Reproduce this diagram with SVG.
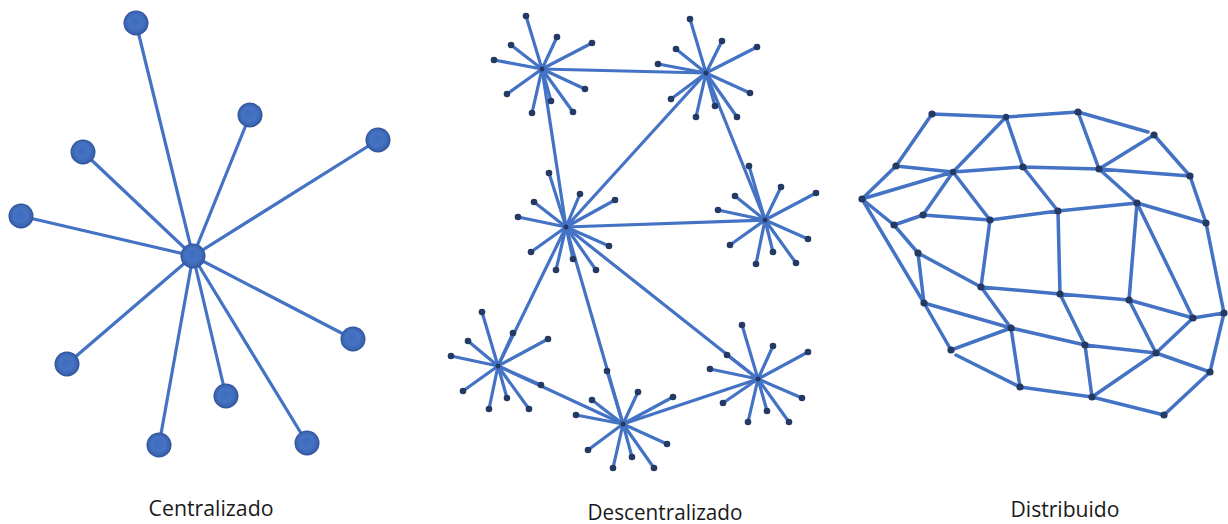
<svg xmlns="http://www.w3.org/2000/svg" width="1228" height="524" viewBox="0 0 1228 524">
  <style>
    .link { stroke: #4472C4; stroke-width: 3.2; stroke-linecap: round; fill: none; }
    .mesh { stroke: #4472C4; stroke-width: 3.5; stroke-linecap: round; fill: none; }
    .ball { fill: url(#sphere); }
    .dot { fill: #253A63; }
    .label { font-family: "Open Sans", "Liberation Sans", sans-serif; font-size: 21px; fill: #1a1a1a; text-anchor: middle; }
  </style>
  <defs>
    <radialGradient id="sphere" cx="0.5" cy="0.5" r="0.5" fx="0.45" fy="0.42">
      <stop offset="0" stop-color="#3E6CBD"/>
      <stop offset="0.55" stop-color="#4673C3"/>
      <stop offset="0.85" stop-color="#3A64B0"/>
      <stop offset="1" stop-color="#2B4F95"/>
    </radialGradient>
    <filter id="soft" x="-30%" y="-30%" width="160%" height="160%">
      <feGaussianBlur stdDeviation="0.6"/>
    </filter>
  </defs>
  <rect width="1228" height="524" fill="#ffffff"/>

  <!-- Star topology: one hub, ten spokes -->
  <g id="connectors-centralized">
    <line class="link" x1="193" y1="256" x2="136" y2="23"/>
    <line class="link" x1="193" y1="256" x2="250" y2="115"/>
    <line class="link" x1="193" y1="256" x2="378" y2="140"/>
    <line class="link" x1="193" y1="256" x2="83" y2="152"/>
    <line class="link" x1="193" y1="256" x2="21" y2="216"/>
    <line class="link" x1="193" y1="256" x2="353" y2="339"/>
    <line class="link" x1="193" y1="256" x2="67" y2="364"/>
    <line class="link" x1="193" y1="256" x2="226" y2="396"/>
    <line class="link" x1="193" y1="256" x2="159" y2="445"/>
    <line class="link" x1="193" y1="256" x2="307" y2="443"/>
  </g>
  <g id="centralized-nodes" filter="url(#soft)">
    <g id="c-hub"><circle class="ball" cx="193" cy="256" r="12.5"/></g>
    <g id="c1"><circle class="ball" cx="136" cy="23" r="12.5"/></g>
    <g id="c2"><circle class="ball" cx="250" cy="115" r="12.5"/></g>
    <g id="c3"><circle class="ball" cx="378" cy="140" r="12.5"/></g>
    <g id="c4"><circle class="ball" cx="83" cy="152" r="12.5"/></g>
    <g id="c5"><circle class="ball" cx="21" cy="216" r="12.5"/></g>
    <g id="c6"><circle class="ball" cx="353" cy="339" r="12.5"/></g>
    <g id="c7"><circle class="ball" cx="67" cy="364" r="12.5"/></g>
    <g id="c8"><circle class="ball" cx="226" cy="396" r="12.5"/></g>
    <g id="c9"><circle class="ball" cx="159" cy="445" r="12.5"/></g>
    <g id="c10"><circle class="ball" cx="307" cy="443" r="12.5"/></g>
  </g>
  <text class="label" x="211" y="516" textLength="125" lengthAdjust="spacingAndGlyphs">Centralizado</text>

  <!-- Decentralized: seven local stars joined hub to hub -->
  <g id="connectors-decentralized">
    <!-- hub to hub -->
    <line class="link" x1="542" y1="69" x2="706" y2="73"/>
    <line class="link" x1="542" y1="69" x2="566" y2="227"/>
    <line class="link" x1="706" y1="73" x2="566" y2="227"/>
    <line class="link" x1="706" y1="73" x2="765" y2="220"/>
    <line class="link" x1="566" y1="227" x2="765" y2="220"/>
    <line class="link" x1="566" y1="227" x2="498" y2="366"/>
    <line class="link" x1="566" y1="227" x2="623" y2="424"/>
    <line class="link" x1="566" y1="227" x2="758" y2="379"/>
    <line class="link" x1="498" y1="366" x2="623" y2="424"/>
    <line class="link" x1="623" y1="424" x2="758" y2="379"/>
    <!-- spokes A -->
    <path class="link" d="M542 69L526 16M542 69L557 37M542 69L592 43M542 69L511 45M542 69L494 60M542 69L585 89M542 69L507 94M542 69L551 101M542 69L532 113M542 69L573 112"/>
    <!-- spokes B -->
    <path class="link" d="M706 73L690 19M706 73L722 41M706 73L757 47M706 73L676 49M706 73L658 64M706 73L750 93M706 73L671 99M706 73L715 106M706 73L696 117M706 73L737 117"/>
    <!-- spokes C -->
    <path class="link" d="M566 227L549 173M566 227L580 194M566 227L615 200M566 227L534 202M566 227L518 217M566 227L609 246M566 227L531 252M566 227L556 270M566 227L573 259M566 227L596 270"/>
    <!-- spokes D -->
    <path class="link" d="M765 220L749 166M765 220L781 187M765 220L816 193M765 220L735 196M765 220L718 210M765 220L808 239M765 220L730 245M765 220L773 252M765 220L756 264M765 220L796 263"/>
    <!-- spokes E -->
    <path class="link" d="M498 366L482 312M498 366L513 333M498 366L548 339M498 366L468 341M498 366L451 356M498 366L541 385M498 366L463 391M498 366L507 398M498 366L489 409M498 366L529 409"/>
    <!-- spokes F -->
    <path class="link" d="M623 424L607 371M623 424L638 392M623 424L673 397M623 424L592 400M623 424L576 415M623 424L667 444M623 424L588 450M623 424L632 457M623 424L613 468M623 424L654 468"/>
    <!-- spokes G -->
    <path class="link" d="M758 379L742 325M758 379L773 346M758 379L808 352M758 379L727 355M758 379L710 369M758 379L802 398M758 379L723 403M758 379L767 411M758 379L748 422M758 379L789 422"/>
  </g>
  <g id="hub-a">
    <circle class="dot" cx="542" cy="69" r="2.5"/>
    <circle class="dot" cx="526" cy="16" r="3.3"/><circle class="dot" cx="557" cy="37" r="3.3"/><circle class="dot" cx="592" cy="43" r="3.3"/><circle class="dot" cx="511" cy="45" r="3.3"/><circle class="dot" cx="494" cy="60" r="3.3"/><circle class="dot" cx="585" cy="89" r="3.3"/><circle class="dot" cx="507" cy="94" r="3.3"/><circle class="dot" cx="551" cy="101" r="3.3"/><circle class="dot" cx="532" cy="113" r="3.3"/><circle class="dot" cx="573" cy="112" r="3.3"/>
  </g>
  <g id="hub-b">
    <circle class="dot" cx="706" cy="73" r="2.5"/>
    <circle class="dot" cx="690" cy="19" r="3.3"/><circle class="dot" cx="722" cy="41" r="3.3"/><circle class="dot" cx="757" cy="47" r="3.3"/><circle class="dot" cx="676" cy="49" r="3.3"/><circle class="dot" cx="658" cy="64" r="3.3"/><circle class="dot" cx="750" cy="93" r="3.3"/><circle class="dot" cx="671" cy="99" r="3.3"/><circle class="dot" cx="715" cy="106" r="3.3"/><circle class="dot" cx="696" cy="117" r="3.3"/><circle class="dot" cx="737" cy="117" r="3.3"/>
  </g>
  <g id="hub-c">
    <circle class="dot" cx="566" cy="227" r="2.5"/>
    <circle class="dot" cx="549" cy="173" r="3.3"/><circle class="dot" cx="580" cy="194" r="3.3"/><circle class="dot" cx="615" cy="200" r="3.3"/><circle class="dot" cx="534" cy="202" r="3.3"/><circle class="dot" cx="518" cy="217" r="3.3"/><circle class="dot" cx="609" cy="246" r="3.3"/><circle class="dot" cx="531" cy="252" r="3.3"/><circle class="dot" cx="556" cy="270" r="3.3"/><circle class="dot" cx="573" cy="259" r="3.3"/><circle class="dot" cx="596" cy="270" r="3.3"/>
  </g>
  <g id="hub-d">
    <circle class="dot" cx="765" cy="220" r="2.5"/>
    <circle class="dot" cx="749" cy="166" r="3.3"/><circle class="dot" cx="781" cy="187" r="3.3"/><circle class="dot" cx="816" cy="193" r="3.3"/><circle class="dot" cx="735" cy="196" r="3.3"/><circle class="dot" cx="718" cy="210" r="3.3"/><circle class="dot" cx="808" cy="239" r="3.3"/><circle class="dot" cx="730" cy="245" r="3.3"/><circle class="dot" cx="773" cy="252" r="3.3"/><circle class="dot" cx="756" cy="264" r="3.3"/><circle class="dot" cx="796" cy="263" r="3.3"/>
  </g>
  <g id="hub-e">
    <circle class="dot" cx="498" cy="366" r="2.5"/>
    <circle class="dot" cx="482" cy="312" r="3.3"/><circle class="dot" cx="513" cy="333" r="3.3"/><circle class="dot" cx="548" cy="339" r="3.3"/><circle class="dot" cx="468" cy="341" r="3.3"/><circle class="dot" cx="451" cy="356" r="3.3"/><circle class="dot" cx="541" cy="385" r="3.3"/><circle class="dot" cx="463" cy="391" r="3.3"/><circle class="dot" cx="507" cy="398" r="3.3"/><circle class="dot" cx="489" cy="409" r="3.3"/><circle class="dot" cx="529" cy="409" r="3.3"/>
  </g>
  <g id="hub-f">
    <circle class="dot" cx="623" cy="424" r="2.5"/>
    <circle class="dot" cx="607" cy="371" r="3.3"/><circle class="dot" cx="638" cy="392" r="3.3"/><circle class="dot" cx="673" cy="397" r="3.3"/><circle class="dot" cx="592" cy="400" r="3.3"/><circle class="dot" cx="576" cy="415" r="3.3"/><circle class="dot" cx="667" cy="444" r="3.3"/><circle class="dot" cx="588" cy="450" r="3.3"/><circle class="dot" cx="632" cy="457" r="3.3"/><circle class="dot" cx="613" cy="468" r="3.3"/><circle class="dot" cx="654" cy="468" r="3.3"/>
  </g>
  <g id="hub-g">
    <circle class="dot" cx="758" cy="379" r="2.5"/>
    <circle class="dot" cx="742" cy="325" r="3.3"/><circle class="dot" cx="773" cy="346" r="3.3"/><circle class="dot" cx="808" cy="352" r="3.3"/><circle class="dot" cx="727" cy="355" r="3.3"/><circle class="dot" cx="710" cy="369" r="3.3"/><circle class="dot" cx="802" cy="398" r="3.3"/><circle class="dot" cx="723" cy="403" r="3.3"/><circle class="dot" cx="767" cy="411" r="3.3"/><circle class="dot" cx="748" cy="422" r="3.3"/><circle class="dot" cx="789" cy="422" r="3.3"/>
  </g>
  <text class="label" x="665" y="520" textLength="155" lengthAdjust="spacingAndGlyphs">Descentralizado</text>

  <!-- Distributed: irregular mesh -->
  <g id="connectors-distributed">
    <path class="mesh" d="
      M932 114L1006 117 M1006 117L1078 112 M1078 112L1148 132
      M932 114L896 166 M1006 117L953 172 M1006 117L1023 167
      M1078 112L1099 169 M1099 169L1154 135 M1154 135L1190 176
      M896 166L953 172 M953 172L1023 167 M1023 167L1099 169 M1099 169L1190 176
      M862 199L896 166 M862 199L953 172
      M953 172L923 215 M953 172L990 220 M1023 167L1058 211 M1099 169L1137 203 M1190 176L1206 223
      M862 199L894 225 M894 225L923 215 M923 215L990 220 M990 220L1058 211 M1058 211L1137 203 M1137 203L1206 223
      M894 225L918 253 M918 253L981 287 M990 220L981 287
      M1058 211L1060 294 M1137 203L1129 300 M1137 203L1193 318 M1206 223L1224 313
      M862 199L924 303 M918 253L924 303
      M981 287L1060 294 M1060 294L1129 300 M1129 300L1193 318 M1193 318L1224 313
      M924 303L1011 328 M981 287L1011 328 M1060 294L1085 345 M1129 300L1156 353 M1193 318L1156 353
      M1011 328L1085 345 M1085 345L1156 353
      M924 303L951 350 M951 350L1011 328 M956 355L1020 387
      M1011 328L1020 387 M1085 345L1092 397 M1156 353L1210 372 M1156 353L1092 397
      M1020 387L1092 397 M1092 397L1164 415 M1164 415L1210 372 M1224 313L1210 372"/>
  </g>
  <g id="distributed-nodes">
    <g id="n1"><circle class="dot" cx="932" cy="114" r="3.6"/></g>
    <g id="n2"><circle class="dot" cx="1006" cy="117" r="3.2"/></g>
    <g id="n3"><circle class="dot" cx="1078" cy="112" r="3.6"/></g>
    <g id="n4"><circle class="dot" cx="1154" cy="135" r="3.6"/></g>
    <g id="n5"><circle class="dot" cx="896" cy="166" r="3.6"/></g>
    <g id="n6"><circle class="dot" cx="953" cy="172" r="3.2"/></g>
    <g id="n7"><circle class="dot" cx="1023" cy="167" r="3.6"/></g>
    <g id="n8"><circle class="dot" cx="1099" cy="169" r="3.6"/></g>
    <g id="n9"><circle class="dot" cx="1190" cy="176" r="3.6"/></g>
    <g id="n10"><circle class="dot" cx="862" cy="199" r="3.6"/></g>
    <g id="n11"><circle class="dot" cx="923" cy="215" r="3.6"/></g>
    <g id="n12"><circle class="dot" cx="894" cy="225" r="3.6"/></g>
    <g id="n13"><circle class="dot" cx="990" cy="220" r="3.6"/></g>
    <g id="n14"><circle class="dot" cx="1058" cy="211" r="3.6"/></g>
    <g id="n15"><circle class="dot" cx="1137" cy="203" r="3.6"/></g>
    <g id="n16"><circle class="dot" cx="1206" cy="223" r="3.6"/></g>
    <g id="n17"><circle class="dot" cx="918" cy="253" r="3.6"/></g>
    <g id="n18"><circle class="dot" cx="981" cy="287" r="3.6"/></g>
    <g id="n19"><circle class="dot" cx="1060" cy="294" r="3.6"/></g>
    <g id="n20"><circle class="dot" cx="1129" cy="300" r="3.6"/></g>
    <g id="n21"><circle class="dot" cx="924" cy="303" r="3.6"/></g>
    <g id="n22"><circle class="dot" cx="1193" cy="318" r="3.6"/></g>
    <g id="n23"><circle class="dot" cx="1224" cy="313" r="3.6"/></g>
    <g id="n24"><circle class="dot" cx="1011" cy="328" r="3.6"/></g>
    <g id="n25"><circle class="dot" cx="1085" cy="345" r="3.6"/></g>
    <g id="n26"><circle class="dot" cx="1156" cy="353" r="3.6"/></g>
    <g id="n27"><circle class="dot" cx="951" cy="350" r="3.6"/></g>
    <g id="n28"><circle class="dot" cx="1210" cy="372" r="3.6"/></g>
    <g id="n29"><circle class="dot" cx="1020" cy="387" r="3.6"/></g>
    <g id="n30"><circle class="dot" cx="1092" cy="397" r="3.6"/></g>
    <g id="n31"><circle class="dot" cx="1164" cy="415" r="3.6"/></g>
  </g>
  <text class="label" x="1065" y="517" textLength="109" lengthAdjust="spacingAndGlyphs">Distribuido</text>
</svg>
